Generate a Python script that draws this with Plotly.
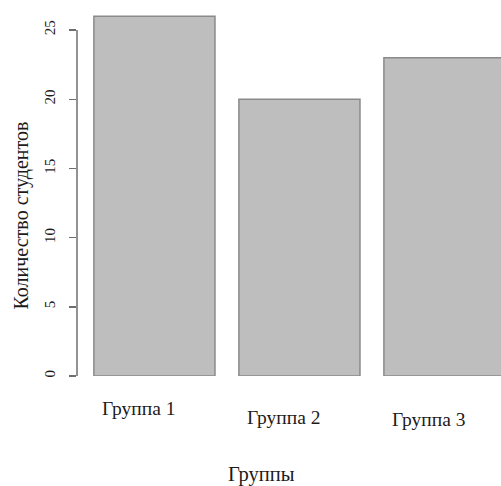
import plotly.graph_objects as go

categories = ["Группа 1", "Группа 2", "Группа 3"]
values = [26, 20, 23]
y_ticks = [0, 5, 10, 15, 20, 25]
y_title = "Количество студентов"
x_title = "Группы"

FONT = "Liberation Serif, Times New Roman, serif"
TXT = "#1e1a1a"

fig = go.Figure()
fig.add_trace(go.Bar(
    x=list(range(len(categories))),
    y=values,
    width=0.835,
    marker=dict(color="#bebebe", line=dict(color="#8a8a8a", width=1.5)),
    hoverinfo="skip",
))

# x labels (staggered, slightly left of bar centres as in the reference)
label_offsets = [-32, -41, -43]
for i, (cat, dy) in enumerate(zip(categories, label_offsets)):
    fig.add_annotation(x=i, xref="x", y=0, yref="paper", yshift=dy, xshift=-16,
                       text=cat, showarrow=False, xanchor="center", yanchor="middle",
                       font=dict(family=FONT, size=19.5, color=TXT))

fig.add_annotation(x=0.436, xref="paper", y=0, yref="paper", yshift=-98,
                   text=x_title, showarrow=False, xanchor="center", yanchor="middle",
                   font=dict(family=FONT, size=20.5, color=TXT))

fig.add_annotation(x=0, xref="paper", xshift=-56, y=11.6, yref="y",
                   text=y_title, textangle=-90, showarrow=False,
                   xanchor="center", yanchor="middle",
                   font=dict(family=FONT, size=20, color=TXT))

# axis line from 0 to 25 only
fig.add_shape(type="line", xref="paper", yref="y", x0=0, x1=0,
              y0=y_ticks[0], y1=y_ticks[-1], line=dict(color="#6e6e6e", width=1.5))

fig.update_layout(
    width=501, height=486,
    margin=dict(l=77, r=0, t=10, b=110),
    paper_bgcolor="white", plot_bgcolor="white",
    showlegend=False, bargap=0,
    xaxis=dict(range=[-0.534, 2.39], showticklabels=False, showgrid=False,
               zeroline=False, showline=False, ticks=""),
    yaxis=dict(range=[0, 26.45], tickvals=y_ticks, ticktext=[str(v) for v in y_ticks],
               tickangle=-90, ticks="outside", ticklen=7, tickwidth=1.5,
               tickcolor="#6e6e6e", showgrid=False, zeroline=False, showline=False,
               ticklabelstandoff=8,
               tickfont=dict(family=FONT, size=15, color=TXT)),
)

fig.write_html(
    "out.html",
    config={"displayModeBar": False, "staticPlot": True},
    post_script="document.body.style.margin='0';document.body.style.overflow='hidden';",
)
